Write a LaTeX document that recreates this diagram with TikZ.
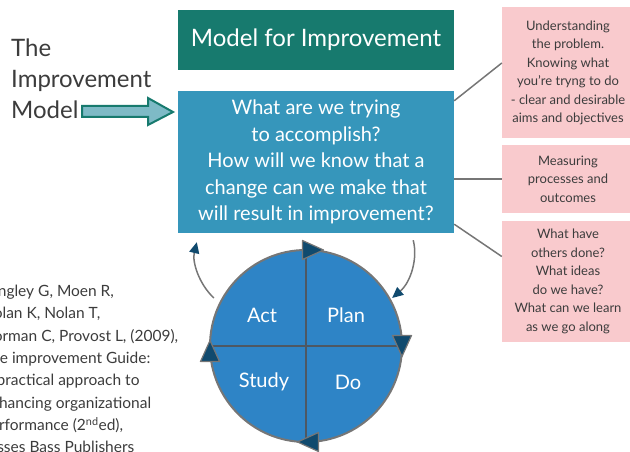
\documentclass[tikz,border=0pt]{standalone}
\usepackage{fontspec}
\setmainfont{Lato}
\usetikzlibrary{arrows.meta}

\definecolor{titelgruen}{RGB}{23,122,110}
\definecolor{frageblau}{RGB}{54,150,187}
\definecolor{rosa}{RGB}{249,202,205}
\definecolor{kreisblau}{RGB}{46,132,198}
\definecolor{marine}{RGB}{16,74,110}
\definecolor{linie}{RGB}{118,118,118}
\definecolor{achsgrau}{RGB}{78,88,98}
\definecolor{schrift}{RGB}{60,60,60}
\definecolor{pfeilfuell}{RGB}{126,186,198}

\begin{document}
\begin{tikzpicture}[
    x=1pt, y=-1pt,
    rosabox/.style={fill=rosa, text=schrift, minimum width=132pt, align=center,
                    inner sep=0pt, font=\fontsize{13}{18.5}\selectfont},
    verbindung/.style={draw=linie, line width=1.5pt},
    quadrant/.style={text=white, font=\fontsize{20}{24}\selectfont},
    dreieck/.style={fill=marine, draw=linie, line width=1.2pt, line join=round},
    kreispfeil/.style={draw=linie, line width=1.5pt,
                       -{Triangle[length=11pt,width=10pt,color=marine]}}]
    \useasboundingbox (0,0) rectangle (630,452);

    % Überschrift
    \node[anchor=north west, align=left, inner sep=0pt, text=schrift,
          font=\fontsize{24}{31}\selectfont] (modell) at (11,39) {The\\Improvement\\Model};
    \draw[fill=pfeilfuell, draw=titelgruen, line width=2pt, line join=miter]
        (82,106) -- (148,106) -- (148,98) -- (173,112) -- (148,125) -- (148,117) -- (82,117) -- cycle;

    \node[fill=titelgruen, minimum width=276pt, minimum height=60pt, text=white,
          font=\fontsize{24}{28}\selectfont] (titel) at (316,40) {Model for Improvement};

    % Fragen
    \node[fill=frageblau, minimum width=276pt, minimum height=142pt, align=center,
          text=white, font=\fontsize{20}{26.5}\selectfont] (fragen) at (316,162)
          {What are we trying\\to accomplish?\\How will we know that a\\change can we make that\\will result in improvement?};

    % Erläuterungen
    \node[rosabox, minimum height=131pt] (ziele) at (568,73)
          {Understanding\\the problem.\\Knowing what\\you’re tryng to do\\- clear and desirable\\aims and objectives};
    \node[rosabox, minimum height=68pt] (messen) at (568,179)
          {Measuring\\processes and\\outcomes};
    \node[rosabox, minimum height=121pt] (ideen) at (568,281.5)
          {What have\\others done?\\What ideas\\do we have?\\What can we learn\\as we go along};

    \draw[verbindung] ([yshift=-10pt]fragen.north east) -- ([yshift=10pt]ziele.west);
    \draw[verbindung] (fragen.east |- messen.west) -- (messen.west);
    \draw[verbindung] ([yshift=9pt]fragen.south east) -- ([yshift=25pt]ideen.west);

    % Kreis
    \node[circle, fill=kreisblau, draw=linie, line width=2pt, minimum size=192pt,
          inner sep=0pt, outer sep=0pt] (pdsa) at (306,346) {};
    \draw[achsgrau, line width=1.5pt] (pdsa.north) -- (pdsa.south);
    \draw[achsgrau, line width=1.5pt] (pdsa.west) -- (pdsa.east);

    \node[quadrant] (act) at (262,315) {Act};
    \node[quadrant] (plan) at (346,315) {Plan};
    \node[quadrant] (study) at (264,382) {Study};
    \node[quadrant] (do) at (348,382) {Do};

    \foreach \pos/\winkel/\versatz in {north/0/7, east/-90/0, south/180/-2, west/90/-5}
        \filldraw[dreieck, shift={(pdsa.\pos)}, rotate=\winkel, xshift=\versatz pt]
            (-10.5,-9.5) -- (10.5,0) -- (-10.5,9.5) -- cycle;

    % Pfeile
    \draw[kreispfeil] ([xshift=-9pt]pdsa.150) .. controls (199,284) and (192,262) ..
        ([shift={(19pt,-9pt)}]fragen.south west);
    \draw[kreispfeil] ([shift={(-41pt,-7pt)}]fragen.south east) .. controls (418,258) and (411,282) ..
        ([xshift=3pt]pdsa.30);

    % Quelle
    \node[anchor=north west, align=left, inner sep=0pt, text=schrift,
          font=\fontsize{15.5}{22.3}\selectfont] (quelle) at (-18,285)
          {Langley G, Moen R,\\Nolan K, Nolan T,\\Norman C, Provost L, (2009),\\The improvement Guide:\\A practical approach to\\enhancing organizational\\performance (2\textsuperscript{nd}ed),\\Josses Bass Publishers};
\end{tikzpicture}
\end{document}
